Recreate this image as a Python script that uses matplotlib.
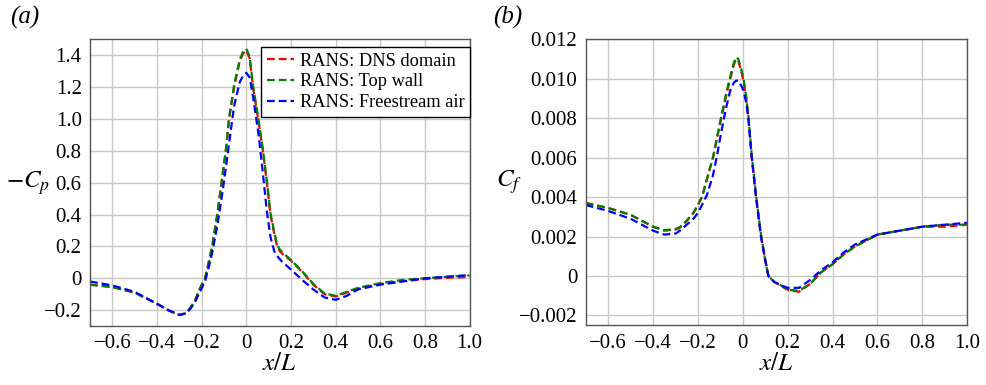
import matplotlib
matplotlib.use("Agg")
import matplotlib.pyplot as plt
from matplotlib.ticker import FuncFormatter

plt.rcParams["font.family"] = ["Liberation Serif", "DejaVu Serif"]
plt.rcParams["mathtext.fontset"] = "stix"

# pressure coefficient, plotted as -Cp
x_cp = [-0.7, -0.6, -0.5, -0.4, -0.35, -0.3, -0.27, -0.25, -0.23, -0.21, -0.185, -0.17,
        -0.153, -0.13, -0.111, -0.092, -0.077, -0.055, -0.03, -0.015, 0.0, 0.015, 0.03,
        0.055, 0.074, 0.092, 0.108, 0.125, 0.138, 0.15, 0.163, 0.2, 0.25, 0.3, 0.35,
        0.4, 0.45, 0.5, 0.6, 0.7, 0.8, 0.9, 1.0]
cp_dns = [-0.04, -0.055, -0.09, -0.16, -0.2, -0.23, -0.22, -0.185, -0.14, -0.07, 0.0, 0.09,
          0.2, 0.4, 0.6, 0.8, 1.0, 1.2, 1.36, 1.41, 1.43, 1.38, 1.2,
          0.98, 0.8, 0.6, 0.4, 0.28, 0.2, 0.17, 0.15, 0.11, 0.04, -0.04, -0.1,
          -0.115, -0.09, -0.065, -0.035, -0.018, -0.005, 0.003, 0.008]
cp_top = [-0.04, -0.055, -0.09, -0.16, -0.2, -0.23, -0.22, -0.185, -0.14, -0.07, 0.0, 0.09,
          0.2, 0.4, 0.6, 0.8, 1.01, 1.21, 1.37, 1.42, 1.44, 1.39, 1.21,
          0.99, 0.81, 0.61, 0.41, 0.29, 0.21, 0.18, 0.16, 0.115, 0.045, -0.035, -0.095,
          -0.11, -0.085, -0.06, -0.03, -0.01, 0.0, 0.01, 0.018]
cp_free = [-0.02, -0.045, -0.085, -0.16, -0.2, -0.23, -0.22, -0.19, -0.15, -0.09, -0.02, 0.06,
           0.16, 0.33, 0.5, 0.69, 0.85, 1.08, 1.23, 1.27, 1.29, 1.26, 1.14,
           0.9, 0.66, 0.42, 0.26, 0.17, 0.14, 0.12, 0.1, 0.055, -0.01, -0.07, -0.12,
           -0.135, -0.11, -0.07, -0.04, -0.02, 0.0, 0.01, 0.02]

# skin friction coefficient
x_cf = [-0.7, -0.6, -0.5, -0.4, -0.35, -0.3, -0.28, -0.25, -0.22, -0.2, -0.182, -0.16,
        -0.133, -0.115, -0.096, -0.075, -0.056, -0.04, -0.03, -0.02, -0.005, 0.003, 0.015,
        0.025, 0.04, 0.059, 0.081, 0.1, 0.114, 0.14, 0.166, 0.2, 0.25, 0.3, 0.35, 0.4,
        0.45, 0.5, 0.6, 0.7, 0.8, 0.9, 1.0]
cf_dns = [0.0037, 0.00345, 0.0031, 0.0025, 0.0023, 0.00235, 0.00245, 0.0028, 0.0032, 0.0036, 0.0040, 0.0049,
          0.0060, 0.0070, 0.0080, 0.0091, 0.0100, 0.0107, 0.0110, 0.0109, 0.0103, 0.0099, 0.0090,
          0.0080, 0.0060, 0.0040, 0.0020, 0.0008, 0.0, -0.0003, -0.00047, -0.0007, -0.0008, -0.0004, 0.0002, 0.0006,
          0.0011, 0.0015, 0.0021, 0.0023, 0.0025, 0.0025, 0.0026]
cf_top = [0.0037, 0.00345, 0.0031, 0.0025, 0.00232, 0.00238, 0.00248, 0.0028, 0.0032, 0.0036, 0.0040, 0.0049,
          0.0060, 0.0070, 0.0081, 0.0092, 0.0101, 0.0108, 0.0111, 0.0110, 0.0104, 0.0100, 0.0091,
          0.0081, 0.0061, 0.0041, 0.0021, 0.0008, 0.0, -0.0003, -0.00045, -0.0007, -0.00075, -0.0004, 0.0002, 0.0006,
          0.0011, 0.0015, 0.0021, 0.0023, 0.0025, 0.0026, 0.0026]
cf_free = [0.0036, 0.0033, 0.0029, 0.0023, 0.0021, 0.00215, 0.0023, 0.0026, 0.0029, 0.0032, 0.0036, 0.0041,
           0.0051, 0.0061, 0.0073, 0.0085, 0.0094, 0.0098, 0.0099, 0.0099, 0.0096, 0.0094, 0.0088,
           0.0080, 0.0060, 0.0040, 0.0020, 0.0008, 0.0, -0.0003, -0.00045, -0.0006, -0.0006, -0.0002, 0.0003, 0.0007,
           0.0012, 0.0016, 0.0021, 0.0023, 0.0025, 0.0026, 0.0027]

labels = ["RANS: DNS domain", "RANS: Top wall", "RANS: Freestream air"]
colors = ["#ff0000", "#008000", "#0000ff"]
x_ticks = [-0.6, -0.4, -0.2, 0, 0.2, 0.4, 0.6, 0.8, 1.0]
cp_ticks = [-0.2, 0, 0.2, 0.4, 0.6, 0.8, 1.0, 1.2, 1.4]
cf_ticks = [-0.002, 0, 0.002, 0.004, 0.006, 0.008, 0.010, 0.012]


def num(dec):
    # zero printed bare, negatives with a proper minus sign
    return FuncFormatter(lambda v, p: "0" if abs(v) < 1e-9 else f"{v:.{dec}f}".replace("-", "\u2212"))


def setup(ax, yticks, ydec):
    ax.set_xlim(-0.7, 1.0)
    ax.set_xticks(x_ticks)
    ax.set_yticks(yticks)
    ax.xaxis.set_major_formatter(num(1))
    ax.yaxis.set_major_formatter(num(ydec))
    ax.grid(True, color="#c8c8c8", linewidth=1.0)
    ax.set_axisbelow(True)
    ax.tick_params(length=0, labelsize=15, pad=6)
    for s in ax.spines.values():
        s.set_color("#555555")
        s.set_linewidth(1.0)
    ax.set_xlabel(r"$x/L$", fontsize=18, labelpad=0)


fig = plt.figure(figsize=(9.86, 3.85), dpi=100)
ax1 = fig.add_axes([0.0913, 0.153, 0.385, 0.745])
ax2 = fig.add_axes([0.594, 0.155, 0.387, 0.743])

for ys, c, lab in zip([cp_dns, cp_top, cp_free], colors, labels):
    ax1.plot(x_cp, ys, "--", color=c, lw=1.6, label=lab, dashes=(3.5, 1.8))
setup(ax1, cp_ticks, 1)
ax1.set_ylim(-0.3, 1.5)
ax1.set_ylabel(r"$-C_p$", fontsize=18, rotation=0, va="center")
ax1.yaxis.set_label_coords(-0.162, 0.5)
leg = ax1.legend(loc="upper right", bbox_to_anchor=(1.0, 0.972), borderaxespad=0,
                 fontsize=13.2, frameon=True, fancybox=False, framealpha=1,
                 handlelength=1.5, handletextpad=0.3, borderpad=0.3, labelspacing=0.2)
leg.get_frame().set_edgecolor("black")
leg.get_frame().set_linewidth(1.0)

for ys, c, lab in zip([cf_dns, cf_top, cf_free], colors, labels):
    ax2.plot(x_cf, ys, "--", color=c, lw=1.6, label=lab, dashes=(3.5, 1.8))
setup(ax2, cf_ticks, 3)
ax2.set_ylim(-0.0025, 0.012)
ax2.set_ylabel(r"$C_f$", fontsize=18, rotation=0, va="center")
ax2.yaxis.set_label_coords(-0.2, 0.5)

fig.text(0.01, 0.955, "(a)", fontsize=18, style="italic", va="center")
fig.text(0.5, 0.955, "(b)", fontsize=18, style="italic", va="center")

fig.savefig("out.png", dpi=100)
